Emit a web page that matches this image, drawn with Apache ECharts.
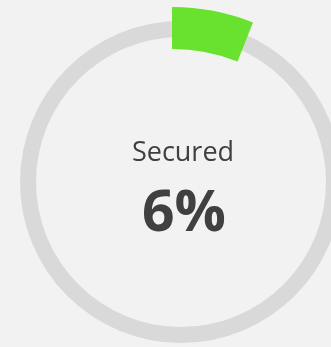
<!DOCTYPE html>
<html>
<head>
<meta charset="utf-8">
<script src="https://cdn.jsdelivr.net/npm/echarts@6/dist/echarts.min.js"></script>
<style>
  html, body { margin: 0; padding: 0; background: #f2f2f2; }
  #chart { width: 331px; height: 347px; }
</style>
</head>
<body>
<div id="chart"></div>
<script>
// Progress data: secured share versus what is left
const categories = ['Secured', 'Remaining'];
const values = [6, 94];
const title = categories[0];

const total = values.reduce((a, b) => a + b, 0);
const pct = Math.round(values[0] / total * 100) + '%';

const chart = echarts.init(document.getElementById('chart'), null, { renderer: 'canvas' });

chart.setOption({
  backgroundColor: '#f2f2f2',
  animation: false,
  series: [
    {
      // grey track ring
      type: 'pie',
      silent: true,
      center: [181, 182],
      radius: [145, 161],
      label: { show: false },
      labelLine: { show: false },
      itemStyle: { color: '#d9d9d9', borderWidth: 0 },
      data: [{ name: 'track', value: total }]
    },
    {
      // green progress segment
      type: 'pie',
      silent: true,
      center: [172, 227],
      radius: [178, 220],
      startAngle: 90,
      clockwise: true,
      label: { show: false },
      labelLine: { show: false },
      itemStyle: { borderWidth: 0 },
      data: [
        { name: categories[0], value: values[0], itemStyle: { color: '#69e22f' } },
        { name: categories[1], value: values[1], itemStyle: { color: 'rgba(0,0,0,0)' } }
      ]
    }
  ],
  graphic: [
    {
      type: 'text',
      x: 183,
      y: 153,
      style: {
        text: title,
        fontFamily: 'Open Sans',
        fontSize: 27,
        fill: '#404040',
        textAlign: 'center',
        textVerticalAlign: 'middle'
      }
    },
    {
      type: 'text',
      x: 184,
      y: 215,
      style: {
        text: pct,
        fontFamily: 'Open Sans',
        fontWeight: 'bold',
        fontSize: 57,
        fill: '#404040',
        textAlign: 'center',
        textVerticalAlign: 'middle'
      }
    }
  ]
});
</script>
</body>
</html>
